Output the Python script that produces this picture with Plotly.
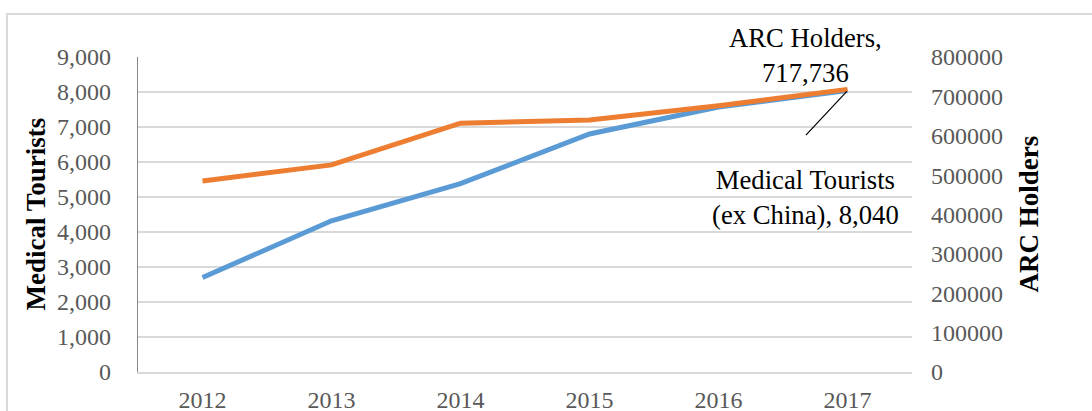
import plotly.graph_objects as go

years = ["2012", "2013", "2014", "2015", "2016", "2017"]
medical_tourists = [2700, 4320, 5380, 6800, 7570, 8040]
arc_holders = [485000, 526000, 632000, 640000, 676000, 717736]

left_ticks = list(range(0, 9001, 1000))
right_ticks = list(range(0, 800001, 100000))

FONT = "Liberation Serif, Times New Roman, serif"
TICK_COLOR = "#595959"
GRID = "#d9d9d9"

fig = go.Figure()
fig.add_trace(go.Scatter(
    x=years, y=medical_tourists, mode="lines", name="Medical Tourists (ex China)",
    line=dict(color="#5B9BD5", width=5), yaxis="y"))
fig.add_trace(go.Scatter(
    x=years, y=arc_holders, mode="lines", name="ARC Holders",
    line=dict(color="#ED7D31", width=5), yaxis="y2"))

fig.update_layout(
    width=1092, height=411,
    margin=dict(l=138, r=180, t=57, b=39),
    paper_bgcolor="white", plot_bgcolor="white",
    showlegend=False,
    font=dict(family=FONT, size=24, color=TICK_COLOR),
    xaxis=dict(type="category", range=[-0.5, 5.5], showgrid=False, automargin=False,
               showline=True, linecolor=GRID, linewidth=1.5,
               ticks="", ticklabelstandoff=5,
               tickfont=dict(family=FONT, size=24, color=TICK_COLOR)),
    yaxis=dict(range=[0, 9000], tickvals=left_ticks, tickformat=",d", automargin=False,
               showgrid=True, gridcolor=GRID, gridwidth=1.5,
               showline=True, linecolor="#868686", linewidth=1.2,
               zeroline=False, ticks="", ticklabelstandoff=21,
               tickfont=dict(family=FONT, size=24, color=TICK_COLOR)),
    yaxis2=dict(range=[0, 800000], tickvals=right_ticks, tickformat="d", automargin=False,
                overlaying="y", side="right", showgrid=False,
                showline=False, zeroline=False, ticks="", ticklabelstandoff=18,
                tickfont=dict(family=FONT, size=24, color=TICK_COLOR)),
)

# chart border
fig.add_shape(type="rect", xref="paper", yref="paper",
              x0=(7 - 138) / 774, x1=(1100 - 138) / 774,
              y0=-0.3, y1=(372 - 14) / 315,
              line=dict(color=GRID, width=2), fillcolor="rgba(0,0,0,0)", layer="below")

# axis titles
fig.add_annotation(text="<b>Medical Tourists</b>", xref="paper", yref="paper",
                   x=(35 - 138) / 774, y=0.50, textangle=-90, showarrow=False,
                   xanchor="center", yanchor="middle",
                   font=dict(family=FONT, size=27, color="black"))
fig.add_annotation(text="<b>ARC Holders</b>", xref="paper", yref="paper",
                   x=(1028 - 138) / 774, y=0.50, textangle=-90, showarrow=False,
                   xanchor="center", yanchor="middle",
                   font=dict(family=FONT, size=27, color="black"))

# data labels (category axis positions are given by index)
last = len(years) - 1
fig.add_annotation(text=f"ARC Holders,<br>{arc_holders[-1]:,}", x=last, y=arc_holders[-1],
                   xref="x", yref="y2", showarrow=False, xshift=-42, yshift=34,
                   align="center", font=dict(family=FONT, size=26.7, color="black"))
fig.add_annotation(text=f"Medical Tourists<br>(ex China), {medical_tourists[-1]:,}",
                   x=last, y=medical_tourists[-1],
                   xref="x", yref="y", showarrow=False, xshift=-42, yshift=-107,
                   align="center", font=dict(family=FONT, size=26.7, color="black"))

# leader line
fig.add_annotation(text="", x=last, y=medical_tourists[-1], xref="x", yref="y",
                   showarrow=True, arrowhead=0, arrowwidth=1.2, arrowcolor="black",
                   ax=-43, ay=46, standoff=1)

fig.write_html("out.html")
